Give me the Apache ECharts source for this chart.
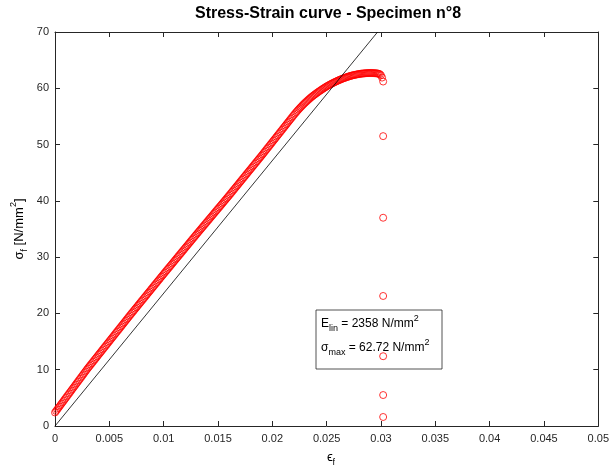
<!DOCTYPE html>
<html>
<head>
<meta charset="utf-8">
<script src="https://cdn.jsdelivr.net/npm/echarts@6/dist/echarts.min.js"></script>
<style>html,body{margin:0;padding:0;background:#fff}#c{width:612px;height:471px}</style>
</head>
<body>
<div id="c"></div>
<script>
// ---- data ----
const chartTitle = 'Stress-Strain curve - Specimen n°8';
const xTickLabels = ['0','0.005','0.01','0.015','0.02','0.025','0.03','0.035','0.04','0.045','0.05'];
const yTickLabels = ['0','10','20','30','40','50','60','70'];

const strain = [
0,0.0001,0.0002,0.0003,0.0004,0.0005,0.0006,0.0007,0.0008,0.0009,
0.0010,0.0011,0.0012,0.0013,0.0014,0.0015,0.0016,0.0017,0.0018,0.0019,
0.0020,0.0021,0.0022,0.0023,0.0024,0.0025,0.0026,0.0027,0.0028,0.0029,
0.0030,0.0031,0.0032,0.0033,0.0034,0.0035,0.0036,0.0037,0.0038,0.0039,
0.0040,0.0041,0.0042,0.0043,0.0044,0.0045,0.0046,0.0047,0.0048,0.0049,
0.0050,0.0051,0.0052,0.0053,0.0054,0.0055,0.0056,0.0057,0.0058,0.0059,
0.0060,0.0061,0.0062,0.0063,0.0064,0.0065,0.0066,0.0067,0.0068,0.0069,
0.0070,0.0071,0.0072,0.0073,0.0074,0.0075,0.0076,0.0077,0.0078,0.0079,
0.0080,0.0081,0.0082,0.0083,0.0084,0.0085,0.0086,0.0087,0.0088,0.0089,
0.0090,0.0091,0.0092,0.0093,0.0094,0.0095,0.0096,0.0097,0.0098,0.0099,
0.0100,0.0101,0.0102,0.0103,0.0104,0.0105,0.0106,0.0107,0.0108,0.0109,
0.0110,0.0111,0.0112,0.0113,0.0114,0.0115,0.0116,0.0117,0.0118,0.0119,
0.0120,0.0121,0.0122,0.0123,0.0124,0.0125,0.0126,0.0127,0.0128,0.0129,
0.0130,0.0131,0.0132,0.0133,0.0134,0.0135,0.0136,0.0137,0.0138,0.0139,
0.0140,0.0141,0.0142,0.0143,0.0144,0.0145,0.0146,0.0147,0.0148,0.0149,
0.0150,0.0151,0.0152,0.0153,0.0154,0.0155,0.0156,0.0157,0.0158,0.0159,
0.0160,0.0161,0.0162,0.0163,0.0164,0.0165,0.0166,0.0167,0.0168,0.0169,
0.0170,0.0171,0.0172,0.0173,0.0174,0.0175,0.0176,0.0177,0.0178,0.0179,
0.0180,0.0181,0.0182,0.0183,0.0184,0.0185,0.0186,0.0187,0.0188,0.0189,
0.0190,0.0191,0.0192,0.0193,0.0194,0.0195,0.0196,0.0197,0.0198,0.0199,
0.0200,0.0201,0.0202,0.0203,0.0204,0.0205,0.0206,0.0207,0.0208,0.0209,
0.0210,0.0211,0.0212,0.0213,0.0214,0.0215,0.0216,0.0217,0.0218,0.0219,
0.0220,0.0221,0.0222,0.0223,0.0224,0.0225,0.0226,0.0227,0.0228,0.0229,
0.0230,0.0231,0.0232,0.0233,0.0234,0.0235,0.0236,0.0237,0.0238,0.0239,
0.0240,0.0241,0.0242,0.0243,0.0244,0.0245,0.0246,0.0247,0.0248,0.0249,
0.0250,0.0251,0.0252,0.0253,0.0254,0.0255,0.0256,0.0257,0.0258,0.0259,
0.0260,0.0261,0.0262,0.0263,0.0264,0.0265,0.0266,0.0267,0.0268,0.0269,
0.0270,0.0271,0.0272,0.0273,0.0274,0.0275,0.0276,0.0277,0.0278,0.0279,
0.0280,0.0281,0.0282,0.0283,0.0284,0.0285,0.0286,0.0287,0.0288,0.0289,
0.0290,0.0291,0.0292,0.0293,0.0294,0.0295,0.0296,0.0297,0.0298,0.0299,
0.0300,0.0301,
0.0302,0.0302,0.0302,0.0302,0.0302,0.0302,0.0302
];
const stress = [
2.40,2.66,2.92,3.18,3.44,3.70,3.96,4.22,4.48,4.74,
5.00,5.26,5.52,5.78,6.04,6.30,6.56,6.82,7.08,7.34,
7.60,7.86,8.12,8.38,8.64,8.90,9.16,9.42,9.68,9.94,
10.20,10.44,10.69,10.93,11.17,11.41,11.66,11.90,12.14,12.38,
12.63,12.87,13.11,13.35,13.60,13.84,14.08,14.32,14.57,14.81,
15.05,15.29,15.54,15.78,16.02,16.26,16.51,16.75,16.99,17.23,
17.48,17.72,17.96,18.20,18.45,18.69,18.93,19.17,19.42,19.66,
19.90,20.14,20.37,20.61,20.85,21.08,21.32,21.56,21.79,22.03,
22.27,22.50,22.74,22.98,23.21,23.45,23.69,23.92,24.16,24.40,
24.63,24.87,25.11,25.34,25.58,25.82,26.05,26.29,26.53,26.76,
27.00,27.23,27.47,27.70,27.93,28.17,28.40,28.63,28.87,29.10,
29.33,29.57,29.80,30.03,30.27,30.50,30.73,30.97,31.20,31.43,
31.67,31.90,32.13,32.37,32.60,32.83,33.07,33.30,33.53,33.77,
34.00,34.23,34.46,34.69,34.92,35.15,35.38,35.61,35.84,36.07,
36.30,36.53,36.76,36.99,37.22,37.45,37.68,37.91,38.14,38.37,
38.60,38.83,39.06,39.29,39.52,39.75,39.98,40.21,40.44,40.67,
40.90,41.14,41.37,41.61,41.85,42.08,42.32,42.56,42.79,43.03,
43.27,43.50,43.74,43.98,44.21,44.45,44.69,44.92,45.16,45.40,
45.63,45.87,46.11,46.34,46.58,46.82,47.05,47.29,47.53,47.76,
48.00,48.24,48.49,48.73,48.97,49.22,49.46,49.70,49.95,50.19,
50.43,50.68,50.92,51.16,51.41,51.65,51.89,52.14,52.38,52.62,
52.87,53.11,53.35,53.60,53.84,54.08,54.33,54.57,54.81,55.06,
55.30,55.53,55.76,55.98,56.20,56.41,56.62,56.82,57.02,57.21,
57.40,57.58,57.76,57.94,58.11,58.28,58.44,58.59,58.74,58.89,
59.03,59.17,59.31,59.45,59.58,59.71,59.84,59.97,60.09,60.21,
60.33,60.44,60.55,60.66,60.76,60.86,60.96,61.06,61.15,61.24,
61.33,61.42,61.50,61.58,61.66,61.74,61.81,61.88,61.95,62.02,
62.08,62.14,62.20,62.25,62.30,62.35,62.39,62.43,62.47,62.51,
62.54,62.57,62.60,62.62,62.64,62.66,62.68,62.69,62.70,62.71,
62.72,62.72,62.71,62.70,62.69,62.67,62.65,62.62,62.58,62.50,
62.30,61.90,
61.20,51.50,37.00,23.10,12.40,5.50,1.60
];
// linear fit line (E_lin = 2358 N/mm^2), drawn from origin to the top of the axes
const fitStrain = [0, 0.02969];
const fitStress = [0, 70];
const annotationLines = ['2358', '62.72'];

// ---- chart ----
const FONT = '"Liberation Sans", Arial, Helvetica, sans-serif';
const AX = '#262626';
const chart = echarts.init(document.getElementById('c'), null, {renderer: 'canvas'});

const fmtX = v => { const s = String(Math.round(v * 1000) / 1000); return xTickLabels.includes(s) ? s : ''; };
const fmtY = v => { const s = String(Math.round(v)); return yTickLabels.includes(s) ? s : ''; };

const baseX = {
  type: 'value', min: 0, max: 0.05, interval: 0.005,
  axisLine: {show: true, onZero: false, lineStyle: {color: AX, width: 1}},
  axisTick: {show: true, inside: true, length: 5, lineStyle: {color: AX}},
  splitLine: {show: false}
};
const baseY = {
  type: 'value', min: 0, max: 70, interval: 10,
  axisLine: {show: true, onZero: false, lineStyle: {color: AX, width: 1}},
  axisTick: {show: true, inside: true, length: 5, lineStyle: {color: AX}},
  splitLine: {show: false}
};

function makeRich(main, small, lh) {
  return {
    n: {fontSize: main, fontFamily: FONT, fill: '#000', color: '#000', lineHeight: lh, verticalAlign: 'middle'},
    sub: {fontSize: small, fontFamily: FONT, fill: '#000', color: '#000', lineHeight: lh, verticalAlign: 'bottom'},
    sup: {fontSize: small, fontFamily: FONT, fill: '#000', color: '#000', lineHeight: lh, verticalAlign: 'top'}
  };
}
const richLabel = makeRich(13, 9, 20);
const richBox = makeRich(12, 9, 19);

chart.setOption({
  animation: false,
  backgroundColor: '#fff',
  grid: {left: 55, right: 11, top: 32, bottom: 45, containLabel: false},
  xAxis: [
    Object.assign({}, baseX, {position: 'bottom',
      axisLabel: {show: true, formatter: fmtX, color: AX, fontSize: 11, fontFamily: FONT, margin: 7}}),
    Object.assign({}, baseX, {position: 'top', axisLabel: {show: false}})
  ],
  yAxis: [
    Object.assign({}, baseY, {position: 'left',
      axisLabel: {show: true, formatter: fmtY, color: AX, fontSize: 11, fontFamily: FONT, margin: 6}}),
    Object.assign({}, baseY, {position: 'right', axisLabel: {show: false}})
  ],
  series: [
    {
      type: 'line', xAxisIndex: 0, yAxisIndex: 0,
      data: fitStrain.map((e, i) => [e, fitStress[i]]),
      showSymbol: false, symbol: 'none',
      lineStyle: {color: '#000', width: 0.8}, z: 3, silent: true
    },
    {
      type: 'scatter', xAxisIndex: 0, yAxisIndex: 0,
      data: strain.map((e, i) => [e, stress[i]]),
      symbol: 'circle', symbolSize: 7,
      itemStyle: {color: 'rgba(0,0,0,0)', borderColor: '#ff0000', borderWidth: 1},
      z: 2, silent: true
    }
  ],
  graphic: [
    {type: 'text', x: 328, y: 14, style: {text: chartTitle, font: 'bold 16px ' + FONT, fill: '#000', align: 'center', verticalAlign: 'middle'}},
    {type: 'text', x: 331, y: 457, style: {text: '{n|ϵ}{sub|f}', rich: richLabel, align: 'center', verticalAlign: 'middle'}},
    {type: 'text', x: 19, y: 229, rotation: Math.PI / 2,
      style: {text: '{n|σ}{sub|f}{n| [N/mm}{sup|2}{n|]}', rich: richLabel, align: 'center', verticalAlign: 'middle'}},
    {type: 'rect', shape: {x: 316, y: 310, width: 126, height: 59}, style: {fill: 'none', stroke: AX, lineWidth: 0.8}, z: 1},
    {type: 'text', x: 321, y: 324,
      style: {text: '{n|E}{sub|lin}{n| = ' + annotationLines[0] + ' N/mm}{sup|2}', rich: richBox, align: 'left', verticalAlign: 'middle'}},
    {type: 'text', x: 321, y: 348,
      style: {text: '{n|σ}{sub|max}{n| = ' + annotationLines[1] + ' N/mm}{sup|2}', rich: richBox, align: 'left', verticalAlign: 'middle'}}
  ]
});
</script>
</body>
</html>
